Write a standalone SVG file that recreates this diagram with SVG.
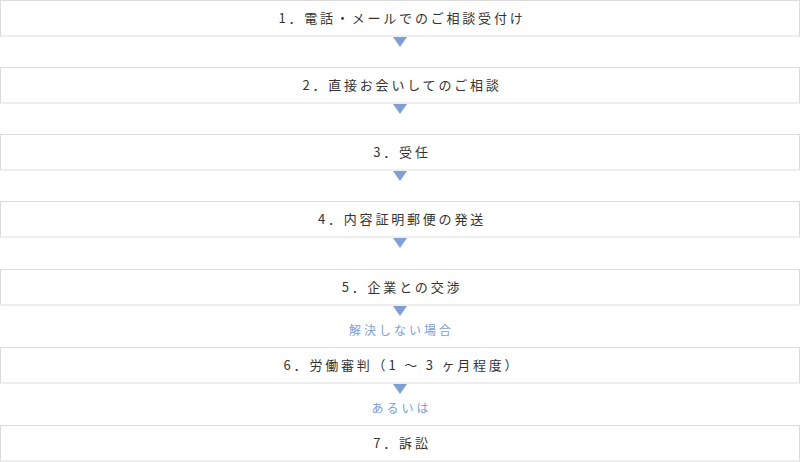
<svg xmlns="http://www.w3.org/2000/svg" width="800" height="462" viewBox="0 0 800 462">
<style>
.box{fill:#fff;stroke:#dcdcdc;stroke-width:1}
.t{font-family:"Noto Sans CJK JP","Noto Sans",sans-serif;font-size:13px;fill:#333;letter-spacing:2.8px;text-anchor:middle}
.lbl{font-family:"Noto Sans CJK JP","Noto Sans",sans-serif;font-size:12px;fill:#7d9dd6;letter-spacing:3px;text-anchor:middle}
.arr{fill:#7f9fd5}
</style>
<rect width="800" height="462" fill="#fff"/>
<g id="connectors">
<polygon class="arr" points="393,37 407,37 400,47"/>
<polygon class="arr" points="393,104 407,104 400,114"/>
<polygon class="arr" points="393,171 407,171 400,181"/>
<polygon class="arr" points="393,238 407,238 400,248"/>
<polygon class="arr" points="393,306 407,306 400,316"/>
<text class="lbl" x="401.5" y="335">解決しない場合</text>
<polygon class="arr" points="393,384 407,384 400,394"/>
<text class="lbl" x="401.5" y="413">あるいは</text>
</g>
<g id="n1"><rect class="box" x="0.5" y="0.5" width="799" height="35.5"/><text class="t" x="402" y="23">1．電話・メールでのご相談受付け</text></g>
<g id="n2"><rect class="box" x="0.5" y="67.5" width="799" height="35.5"/><text class="t" x="402" y="90">2．直接お会いしてのご相談</text></g>
<g id="n3"><rect class="box" x="0.5" y="134.5" width="799" height="35.5"/><text class="t" x="402" y="157">3．受任</text></g>
<g id="n4"><rect class="box" x="0.5" y="201.5" width="799" height="35.5"/><text class="t" x="402" y="224">4．内容証明郵便の発送</text></g>
<g id="n5"><rect class="box" x="0.5" y="269.5" width="799" height="35.5"/><text class="t" x="402" y="292">5．企業との交渉</text></g>
<g id="n6"><rect class="box" x="0.5" y="347.5" width="799" height="35.5"/><text class="t" x="402" y="370">6．労働審判（1 ～ 3 ヶ月程度）</text></g>
<g id="n7"><rect class="box" x="0.5" y="425.5" width="799" height="35.5"/><text class="t" x="402" y="448">7．訴訟</text></g>
</svg>
